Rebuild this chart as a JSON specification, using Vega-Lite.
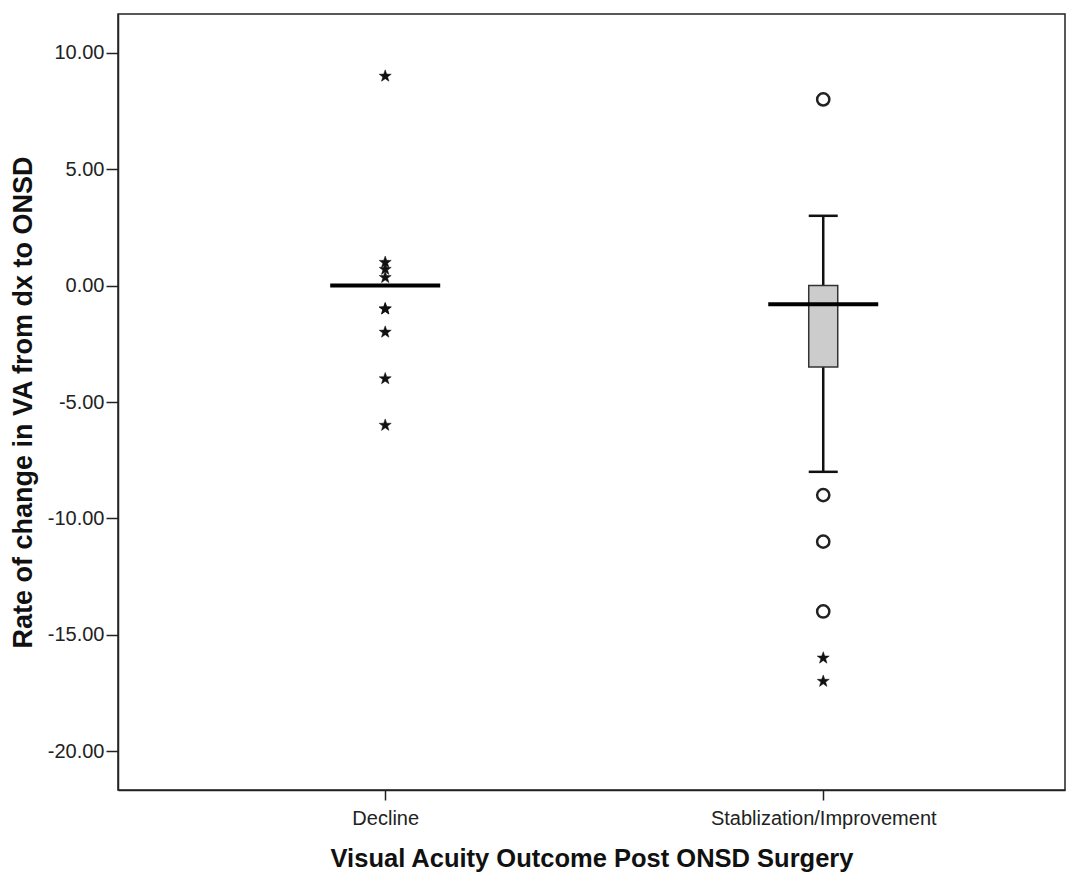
{
  "$schema": "https://vega.github.io/schema/vega-lite/v6.json",
  "width": 947,
  "height": 776,
  "autosize": "none",
  "padding": {"left": 118, "top": 14, "right": 14, "bottom": 86},
  "background": "white",
  "config": {
    "font": "Liberation Sans",
    "view": {"stroke": "#222", "strokeWidth": 1.5},
    "axis": {"domainColor": "#222", "domainWidth": 1.5, "tickColor": "#222", "tickWidth": 1.5, "labelColor": "#222", "titleColor": "#111", "grid": false}
  },
  "datasets": {
    "stats": [
      {"group": "Decline", "lower": 0, "q1": 0, "median": 0, "q3": 0, "upper": 0},
      {"group": "Stablization/Improvement", "lower": -8, "q1": -3.5, "median": -0.8, "q3": 0, "upper": 3}
    ],
    "outliers": [
      {"group": "Decline", "value": 9, "kind": "extreme"},
      {"group": "Decline", "value": 1, "kind": "extreme"},
      {"group": "Decline", "value": 0.7, "kind": "extreme"},
      {"group": "Decline", "value": 0.35, "kind": "extreme"},
      {"group": "Decline", "value": -1, "kind": "extreme"},
      {"group": "Decline", "value": -1, "kind": "extreme"},
      {"group": "Decline", "value": -2, "kind": "extreme"},
      {"group": "Decline", "value": -4, "kind": "extreme"},
      {"group": "Decline", "value": -6, "kind": "extreme"},
      {"group": "Stablization/Improvement", "value": 8, "kind": "outlier"},
      {"group": "Stablization/Improvement", "value": -9, "kind": "outlier"},
      {"group": "Stablization/Improvement", "value": -11, "kind": "outlier"},
      {"group": "Stablization/Improvement", "value": -14, "kind": "outlier"},
      {"group": "Stablization/Improvement", "value": -16, "kind": "extreme"},
      {"group": "Stablization/Improvement", "value": -17, "kind": "extreme"}
    ]
  },
  "encoding": {
    "x": {
      "field": "group",
      "type": "nominal",
      "scale": {"type": "point", "domain": ["Decline", "Stablization/Improvement"], "padding": 0.581, "align": 0.525},
      "axis": {"title": "Visual Acuity Outcome Post ONSD Surgery", "labelAngle": 0, "labelFontSize": 20, "labelLimit": 0, "tickSize": 10, "labelPadding": 8, "titleFontSize": 25.5, "titleFontWeight": "bold", "titlePadding": 18}
    }
  },
  "layer": [
    {
      "mark": {"type": "rule", "color": "#111", "strokeWidth": 1.5},
      "encoding": {
        "x": null,
        "y": {"datum": 0, "type": "quantitative", "scale": {"domain": [-21.67, 11.67], "nice": false, "zero": false},
          "axis": {"title": "Rate of change in VA from dx to ONSD", "values": [-20, -15, -10, -5, 0, 5, 10], "labelExpr": "replace(format(datum.value, '.2f'), '\u2212', '-')", "labelFontSize": 20, "tickSize": 12, "labelPadding": 2, "titleFontSize": 27, "titleFontWeight": "bold", "titlePadding": 10}}
      }
    },
    {
      "data": {"name": "stats"},
      "mark": {"type": "rule", "color": "#111", "strokeWidth": 2.5},
      "encoding": {"y": {"field": "lower", "type": "quantitative"}, "y2": {"field": "upper"}}
    },
    {
      "data": {"name": "stats"},
      "mark": {"type": "bar", "size": 29, "fill": "#cccccc", "stroke": "#333", "strokeWidth": 1.5},
      "encoding": {"y": {"field": "q1", "type": "quantitative"}, "y2": {"field": "q3"}}
    },
    {
      "data": {"name": "stats"},
      "mark": {"type": "tick", "orient": "horizontal", "size": 29, "thickness": 2.5, "color": "#111", "opacity": 1},
      "encoding": {"y": {"field": "lower", "type": "quantitative"}}
    },
    {
      "data": {"name": "stats"},
      "mark": {"type": "tick", "orient": "horizontal", "size": 29, "thickness": 2.5, "color": "#111", "opacity": 1},
      "encoding": {"y": {"field": "upper", "type": "quantitative"}}
    },
    {
      "data": {"name": "stats"},
      "mark": {"type": "tick", "orient": "horizontal", "size": 110, "thickness": 4, "color": "#000", "opacity": 1},
      "encoding": {"y": {"field": "median", "type": "quantitative"}}
    },
    {
      "data": {"name": "outliers"},
      "transform": [{"filter": "datum.kind === 'outlier'"}],
      "mark": {"type": "point", "shape": "circle", "size": 150, "filled": false, "stroke": "#222", "strokeWidth": 2.5, "opacity": 1},
      "encoding": {"y": {"field": "value", "type": "quantitative"}}
    },
    {
      "data": {"name": "outliers"},
      "transform": [{"filter": "datum.kind === 'extreme'"}],
      "mark": {"type": "point", "shape": "M0,-1L0.235,-0.324L0.951,-0.309L0.380,0.124L0.588,0.809L0,0.4L-0.588,0.809L-0.380,0.124L-0.951,-0.309L-0.235,-0.324Z", "size": 160, "filled": true, "fill": "#111", "stroke": "#111", "strokeWidth": 0.5, "opacity": 1},
      "encoding": {"y": {"field": "value", "type": "quantitative"}}
    }
  ]
}
